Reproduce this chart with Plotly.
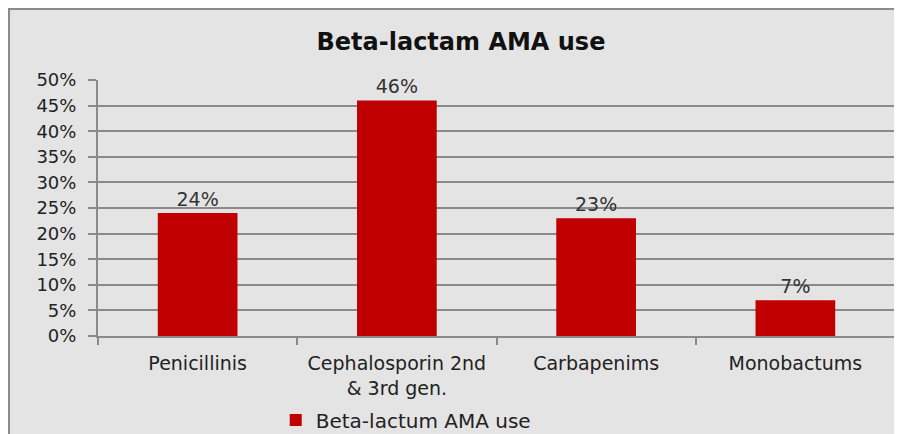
import plotly.graph_objects as go

categories = ['Penicillinis', 'Cephalosporin 2nd<br>& 3rd gen.', 'Carbapenims', 'Monobactums']
values = [0.24, 0.46, 0.23, 0.07]
labels = ['24%', '46%', '23%', '7%']
series_name = 'Beta-lactum AMA use'

fig = go.Figure(go.Bar(x=categories,
                       y=values,
                       name=series_name,
                       text=labels,
                       textposition='outside',
                       textfont=dict(size=19, color='#333333'),
                       marker=dict(color='#c00000', line=dict(width=0)),
                       cliponaxis=False,
                       showlegend=True))

# textured grey chart area with a thin frame, approximated by a flat fill
# (page body keeps its default 8px margin, so the figure is sized to fit the window)
fig.add_shape(type='rect', xref='paper', yref='paper',
              x0=-0.1117, x1=1.03, y0=-0.45, y1=1.277,
              fillcolor='#e4e4e4', line=dict(color='#8a8a8a', width=2),
              layer='below')

fig.update_layout(title=dict(text='<b>Beta-lactam AMA use</b>', x=0.5067, y=0.920,
                             xanchor='center', yanchor='middle',
                             font=dict(family='DejaVu Sans, sans-serif', size=24, color='#111111')),
                  width=894, height=426,
                  margin=dict(l=90, r=7, t=72, b=98),
                  paper_bgcolor='white',
                  plot_bgcolor='rgba(0,0,0,0)',
                  font=dict(family='DejaVu Sans, sans-serif', size=18, color='#333333'),
                  bargap=0.6,
                  legend=dict(orientation='h', x=0.223, y=0.033,
                              xref='paper', yref='container',
                              xanchor='left', yanchor='middle',
                              font=dict(size=20, color='#222222'),
                              bgcolor='rgba(0,0,0,0)',
                              itemwidth=30))

fig.update_xaxes(showline=True, linecolor='#8a8a8a', linewidth=2,
                 ticks='outside', tickson='boundaries', ticklen=7,
                 tickcolor='#8a8a8a', tickwidth=2, automargin=False,
                 ticklabelstandoff=9,
                 showgrid=False, tickfont=dict(size=19, color='#222222'))
fig.update_yaxes(range=[0, 0.5], dtick=0.05, tickformat='.0%',
                 showline=True, linecolor='#8a8a8a', linewidth=2,
                 ticks='outside', ticklen=8, tickcolor='#8a8a8a', tickwidth=2,
                 ticklabelstandoff=8,
                 gridcolor='#8a8a8a', gridwidth=2, zeroline=False, automargin=False,
                 tickfont=dict(size=18, color='#222222'))

fig.write_html('out.html')
